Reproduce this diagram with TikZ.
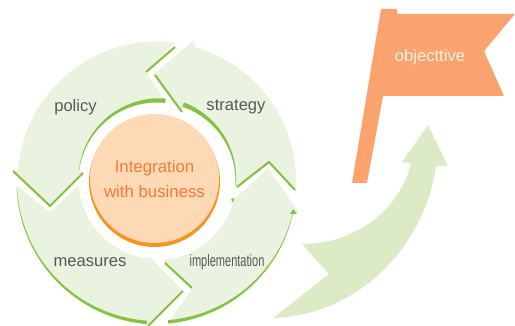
\documentclass[tikz,border=0pt]{standalone}
\usepackage{fontspec}
\setmainfont{Liberation Sans}
\definecolor{seg}{HTML}{E9F3DF}
\definecolor{grn}{HTML}{84C341}
\definecolor{bigarrow}{HTML}{DCEBC6}
\definecolor{flagc}{HTML}{FAA36F}
\definecolor{peach}{HTML}{FDD9B5}
\definecolor{orng}{HTML}{F7941E}
\definecolor{orgtxt}{HTML}{F47B36}
\definecolor{gtxt}{HTML}{58595B}
\newcommand{\ArcP}[3]{-- plot[domain=#1:#2,samples=40,smooth] ({157+#3*cos(\x)},{181+#3*sin(\x)})}
\newcommand{\Taper}[5]{\fill[grn] plot[domain=#1:#2,samples=40,smooth] ({157+#3*cos(\x)},{181+#3*sin(\x)}) -- plot[domain=#2:#1,samples=40,smooth] ({157+(#3+(#4+(#5-#4)*(\x-#1)/(#2-#1)))*cos(\x)},{181+(#3+(#4+(#5-#4)*(\x-#1)/(#2-#1)))*sin(\x)}) -- cycle;}
\tikzset{
  segment/.style={fill=seg,draw=none},
  vline/.style={draw=grn,line width=2.1pt,line join=miter},
  label/.style={font=\fontsize{16.6}{18}\selectfont,text=gtxt,anchor=base,inner sep=0pt},
  core/.style={font=\fontsize{16.8}{18}\selectfont,text=orgtxt,anchor=base,inner sep=0pt}
}
\begin{document}
\begin{tikzpicture}[x=1pt,y=-1pt]
\useasboundingbox (0,0) rectangle (515,326);
% segments
\path[segment] (13,171) \ArcP{184.5}{277.4}{139.5} -- (146,72) -- (165,101) \ArcP{276}{188}{79} -- (83,172) -- (50,206) -- cycle;
\path[segment] (194,40) -- (195,46) \ArcP{285.7}{362.5}{139} -- (295,190) -- (269,162) -- (237,187) \ArcP{364.3}{289}{79} -- (182,111) -- (154,74) -- cycle;
\path[segment] (268,168) -- (299,213) -- (293,213) \ArcP{13.2}{85.5}{140} -- (168,322) -- (193,288) -- (164,263) -- (165,260) \ArcP{84}{15.4}{79} -- (230,203) -- cycle;
\path[segment] (17,186) -- (50,212) -- (78,186) \ArcP{175.6}{96.7}{78} -- (150,257) -- (183,291) -- (148,326) -- (147,322) \ArcP{94}{176.7}{141} -- cycle;
% tapered green arcs
\Taper{188}{276}{78.5}{0.3}{4.5}
\Taper{289}{364.3}{78.5}{4.5}{0.3}
\Taper{94}{176.7}{140}{3.5}{0.3}
\Taper{13.2}{85.5}{139.5}{0.3}{3.5}
% green edges
\draw[vline] (175,47) -- (146,72);
\draw[vline] (13,171) -- (50,206) -- (83,173);
\draw[vline] (155,75) -- (182,112);
\draw[vline] (237,187) -- (269,162) -- (295,190);
\draw[vline] (165,263) -- (192,288);
\draw[vline] (148,326) -- (183,291);
\fill[grn] (290,214) -- (293,209) -- (297,214) -- cycle;
\fill[grn] (231,199) -- (234,198) -- (233,203) -- cycle;
% centre
\fill[orng] (154.5,181.5) circle[radius=65.5];
\fill[peach] (154.5,178.5) circle[radius=64.5];
% big arrow
\fill[bigarrow] (428,125) -- (448,166) -- (436,166) .. controls (425,245) and (360,315) .. (273,318) -- (329,274) -- (302,244) .. controls (355,244) and (400,210) .. (411,163) -- (402,162) -- cycle;
% flag
\fill[flagc,rounded corners=0.8pt] (381,9) -- (397,9) -- (397,14) -- (515,14) -- (484,51) -- (504,96) -- (383,96) -- (367,183) -- (352,183) -- cycle;
% labels
\node[label] (policy) at (75.5,112) {policy};
\node[label] (strategy) at (236,111) {strategy};
\node[label] (measures) at (90,267) {measures};
\node[label,font=\fontsize{16.6}{18}\selectfont,xscale=0.665] (impl) at (227,267) {implementation};
\node[core] (integ) at (154.5,172.5) {Integration};
\node[core] (withb) at (154.5,198) {with business};
\node[label,text=white!90!orange] (obj) at (430,62) {objecttive};
\end{tikzpicture}
\end{document}
